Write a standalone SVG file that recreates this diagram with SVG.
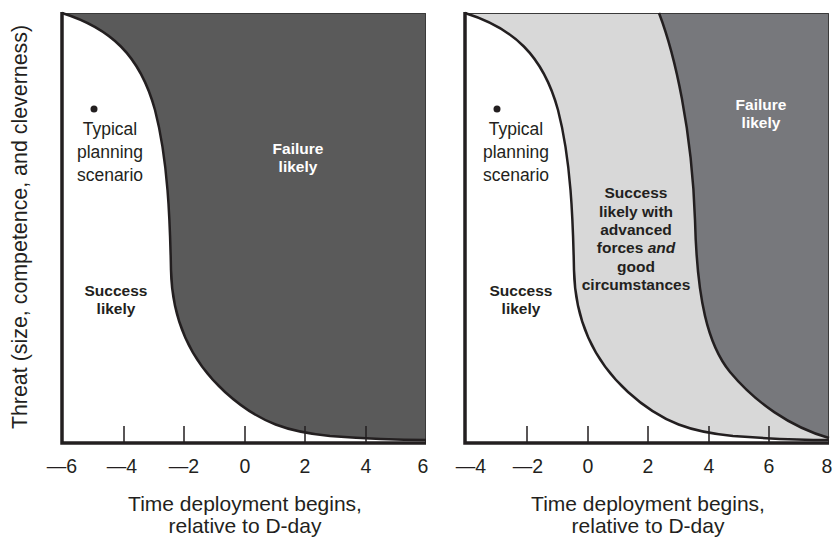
<svg xmlns="http://www.w3.org/2000/svg" width="834" height="537" viewBox="0 0 834 537">
<style>
text{font-family:"Liberation Sans",Arial,sans-serif;fill:#231f20}
.lbl{font-size:17.5px;text-anchor:middle}
.bold{font-size:15.5px;font-weight:bold;text-anchor:middle}
.wh{fill:#ffffff}
.tick{font-size:19.5px;text-anchor:middle}
.title{font-size:21px;text-anchor:middle}
.ytitle{font-size:21.4px;text-anchor:middle}
.curve{fill:none;stroke:#231f20;stroke-width:2.5}
.axis{fill:none;stroke:#231f20;stroke-width:3.5}
.tk{stroke:#231f20;stroke-width:1.5}
.edge{fill:none;stroke:#3a3a3a;stroke-width:1}
</style>
<rect width="834" height="537" fill="#ffffff"/>
<g id="left-panel">
<path d="M62,13 C110,28 140,55 155,110 C168,160 170,220 171,270 C172,320 190,360 225,392 C260,424 290,432 330,436 C370,439 400,440 426,440 L426,13 Z" fill="#5a5a5a"/>
<path class="edge" d="M62,13.5 H425.5 V443"/>
</g>
<g id="right-panel">
<path d="M465,13 C513,28 543,55 558,110 C571,160 573,220 574,270 C575,320 593,360 628,392 C663,424 693,432 733,436 C773,439 803,440 829,440 L829,13 Z" fill="#d8d8d8"/>
<path d="M659,13 C675,55 692,130 695,220 C697,300 708,345 730,372 C755,402 790,427 829,438 L829,13 Z" fill="#77787c"/>
<path class="edge" d="M465,13.5 H828.5 V443"/>
</g>
<g id="connectors">
<path class="curve" d="M62,13 C110,28 140,55 155,110 C168,160 170,220 171,270 C172,320 190,360 225,392 C260,424 290,432 330,436 C370,439 400,440 426,440"/>
<path class="curve" d="M465,13 C513,28 543,55 558,110 C571,160 573,220 574,270 C575,320 593,360 628,392 C663,424 693,432 733,436 C773,439 803,440 829,440"/>
<path class="curve" d="M659,13 C675,55 692,130 695,220 C697,300 708,345 730,372 C755,402 790,427 829,438"/>
</g>
<g id="left-axes">
<path class="axis" d="M62,12 V443 H426"/>
<path class="tk" d="M124,426 V443 M184,426 V443 M245,426 V443 M305,426 V443 M366,426 V443"/>
<text class="tick" x="62" y="473">—6</text>
<text class="tick" x="122" y="473">—4</text>
<text class="tick" x="184" y="473">—2</text>
<text class="tick" x="245" y="473">0</text>
<text class="tick" x="305" y="473">2</text>
<text class="tick" x="366" y="473">4</text>
<text class="tick" x="423" y="473">6</text>
<text class="title" x="245" y="511">Time deployment begins,</text>
<text class="title" x="245" y="533">relative to D-day</text>
</g>
<g id="right-axes">
<path class="axis" d="M465,12 V443 H829"/>
<path class="tk" d="M527,426 V443 M588,426 V443 M648,426 V443 M709,426 V443 M769,426 V443"/>
<text class="tick" x="471" y="473">—4</text>
<text class="tick" x="528" y="473">—2</text>
<text class="tick" x="588" y="473">0</text>
<text class="tick" x="648" y="473">2</text>
<text class="tick" x="709" y="473">4</text>
<text class="tick" x="769" y="473">6</text>
<text class="tick" x="827" y="473">8</text>
<text class="title" x="648" y="511">Time deployment begins,</text>
<text class="title" x="648" y="533">relative to D-day</text>
</g>
<g id="y-axis-title">
<text class="ytitle" transform="translate(27,227) rotate(-90)">Threat (size, competence, and cleverness)</text>
</g>
<g id="left-typical">
<circle cx="94" cy="109" r="3.5" fill="#231f20"/>
<text class="lbl" x="110" y="135">Typical</text>
<text class="lbl" x="110" y="158">planning</text>
<text class="lbl" x="110" y="181">scenario</text>
</g>
<g id="left-failure">
<text class="bold wh" x="298" y="154">Failure</text>
<text class="bold wh" x="298" y="172">likely</text>
</g>
<g id="left-success">
<text class="bold" x="116" y="296">Success</text>
<text class="bold" x="116" y="314">likely</text>
</g>
<g id="right-typical">
<circle cx="497" cy="109" r="3.5" fill="#231f20"/>
<text class="lbl" x="516" y="135">Typical</text>
<text class="lbl" x="516" y="158">planning</text>
<text class="lbl" x="516" y="181">scenario</text>
</g>
<g id="right-success">
<text class="bold" x="521" y="296">Success</text>
<text class="bold" x="521" y="314">likely</text>
</g>
<g id="right-advanced">
<text class="bold" x="636" y="198">Success</text>
<text class="bold" x="636" y="217">likely with</text>
<text class="bold" x="636" y="235">advanced</text>
<text class="bold" x="636" y="253">forces <tspan font-style="italic">and</tspan></text>
<text class="bold" x="636" y="272">good</text>
<text class="bold" x="636" y="290">circumstances</text>
</g>
<g id="right-failure">
<text class="bold wh" x="761" y="110">Failure</text>
<text class="bold wh" x="761" y="128">likely</text>
</g>
</svg>
